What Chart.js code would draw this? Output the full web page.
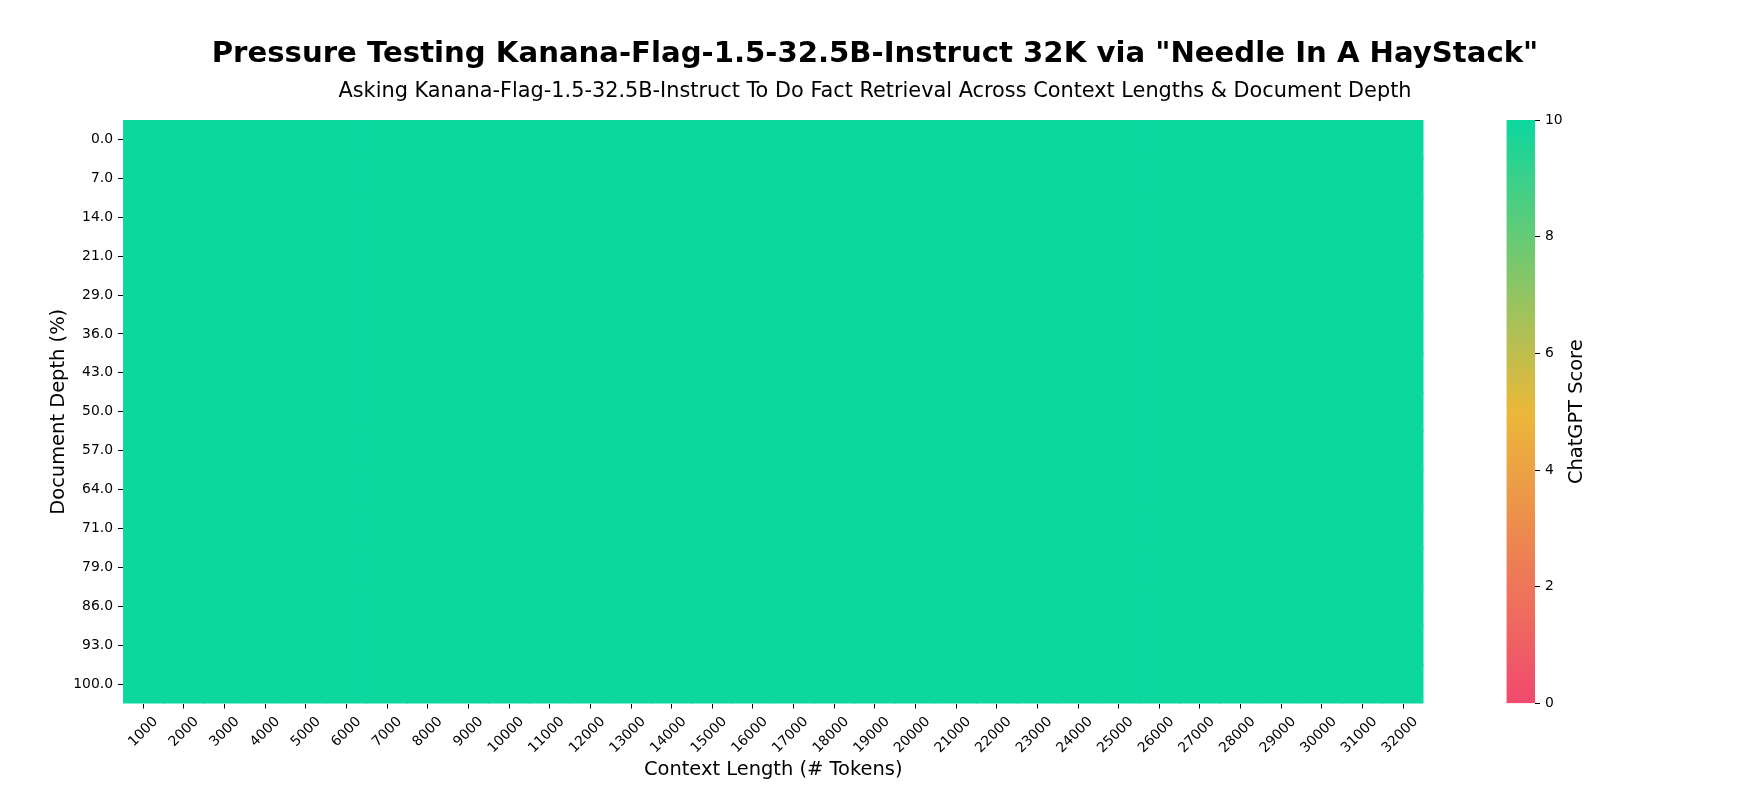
<!DOCTYPE html>
<html>
<head>
<meta charset="utf-8">
<script src="https://cdn.jsdelivr.net/npm/chart.js@4.4.1/dist/chart.umd.min.js"></script>
<style>
  html, body { margin: 0; padding: 0; background: #ffffff; overflow: hidden; }
  #main { position: absolute; left: 0; top: 0; width: 1750px; height: 800px; }
  #cbar { position: absolute; left: 1450px; top: 0; width: 300px; height: 800px; }
</style>
</head>
<body>
<div id="main"><canvas id="heat"></canvas></div>
<div id="cbar"><canvas id="bar"></canvas></div>
<script>
// ---- data ----
const contextLengths = [1000, 2000, 3000, 4000, 5000, 6000, 7000, 8000, 9000, 10000,
  11000, 12000, 13000, 14000, 15000, 16000, 17000, 18000, 19000, 20000,
  21000, 22000, 23000, 24000, 25000, 26000, 27000, 28000, 29000, 30000, 31000, 32000];
const depths = [0, 7, 14, 21, 29, 36, 43, 50, 57, 64, 71, 79, 86, 93, 100];
// scores[row = depth][col = context length]
const scores = [
  [10,10,10,10,10,10,10,10,10,10,10,10,10,10,10,10,10,10,10,10,10,10,10,10,10,10,10,10,10,10,10,10],
  [10,10,10,10,10,10,10,10,10,10,10,10,10,10,10,10,10,10,10,10,10,10,10,10,10,10,10,10,10,10,10,10],
  [10,10,10,10,10,10,10,10,10,10,10,10,10,10,10,10,10,10,10,10,10,10,10,10,10,10,10,10,10,10,10,10],
  [10,10,10,10,10,10,10,10,10,10,10,10,10,10,10,10,10,10,10,10,10,10,10,10,10,10,10,10,10,10,10,10],
  [10,10,10,10,10,10,10,10,10,10,10,10,10,10,10,10,10,10,10,10,10,10,10,10,10,10,10,10,10,10,10,10],
  [10,10,10,10,10,10,10,10,10,10,10,10,10,10,10,10,10,10,10,10,10,10,10,10,10,10,10,10,10,10,10,10],
  [10,10,10,10,10,10,10,10,10,10,10,10,10,10,10,10,10,10,10,10,10,10,10,10,10,10,10,10,10,10,10,10],
  [10,10,10,10,10,10,10,10,10,10,10,10,10,10,10,10,10,10,10,10,10,10,10,10,10,10,10,10,10,10,10,10],
  [10,10,10,10,10,10,10,10,10,10,10,10,10,10,10,10,10,10,10,10,10,10,10,10,10,10,10,10,10,10,10,10],
  [10,10,10,10,10,10,10,10,10,10,10,10,10,10,10,10,10,10,10,10,10,10,10,10,10,10,10,10,10,10,10,10],
  [10,10,10,10,10,10,10,10,10,10,10,10,10,10,10,10,10,10,10,10,10,10,10,10,10,10,10,10,10,10,10,10],
  [10,10,10,10,10,10,10,10,10,10,10,10,10,10,10,10,10,10,10,10,10,10,10,10,10,10,10,10,10,10,10,10],
  [10,10,10,10,10,10,10,10,10,10,10,10,10,10,10,10,10,10,10,10,10,10,10,10,10,10,10,10,10,10,10,10],
  [10,10,10,10,10,10,10,10,10,10,10,10,10,10,10,10,10,10,10,10,10,10,10,10,10,10,10,10,10,10,10,10],
  [10,10,10,10,10,10,10,10,10,10,10,10,10,10,10,10,10,10,10,10,10,10,10,10,10,10,10,10,10,10,10,10]
];
const scoreRange = [0, 10];
const colorbarTicks = [0, 2, 4, 6, 8, 10];
const cmapColors = ['#F0496E', '#EBB839', '#0CD79F'];

const titleText = 'Pressure Testing Kanana-Flag-1.5-32.5B-Instruct 32K via "Needle In A HayStack"';
const subtitleText = 'Asking Kanana-Flag-1.5-32.5B-Instruct To Do Fact Retrieval Across Context Lengths & Document Depth';
const xTitle = 'Context Length (# Tokens)';
const yTitle = 'Document Depth (%)';
const cbTitle = 'ChatGPT Score';

// ---- colormap ----
function hexToRgb(h) {
  return [parseInt(h.slice(1, 3), 16), parseInt(h.slice(3, 5), 16), parseInt(h.slice(5, 7), 16)];
}
function cmap(v) {
  let t = (v - scoreRange[0]) / (scoreRange[1] - scoreRange[0]);
  t = Math.max(0, Math.min(1, t));
  const n = cmapColors.length - 1;
  const seg = Math.min(n - 1, Math.floor(t * n));
  const lt = t * n - seg;
  const a = hexToRgb(cmapColors[seg]), b = hexToRgb(cmapColors[seg + 1]);
  const c = a.map((x, i) => Math.round(x + (b[i] - x) * lt));
  return 'rgb(' + c.join(',') + ')';
}

const FONT = '"DejaVu Sans", "Liberation Sans", sans-serif';
const TICK_SIZE = 13.9;
const LABEL_SIZE = 19.44;
const TITLE_SIZE = 29.17;
const SUBTITLE_SIZE = 20.83;

// ---- heatmap ----
new Chart(document.getElementById('heat'), {
  type: 'bar',
  data: {
    labels: contextLengths.map(String),
    datasets: depths.map((d, r) => ({
      label: d.toFixed(1),
      data: contextLengths.map(() => [r, r + 1]),
      backgroundColor: scores[r].map(v => cmap(v)),
      borderWidth: 0,
      barPercentage: 1,
      categoryPercentage: 1,
      grouped: false,
      inflateAmount: 0.6
    }))
  },
  options: {
    responsive: true,
    maintainAspectRatio: false,
    animation: false,
    events: [],
    layout: { padding: { left: 0, right: 0, top: 0, bottom: 0 } },
    plugins: {
      legend: { display: false },
      tooltip: { enabled: false },
      title: {
        display: true,
        text: titleText,
        color: '#000',
        font: { family: FONT, size: TITLE_SIZE, weight: 'bold', lineHeight: 1.2 },
        padding: { top: 37.2, bottom: 0 }
      },
      subtitle: {
        display: true,
        text: subtitleText,
        color: '#000',
        font: { family: FONT, size: SUBTITLE_SIZE, weight: 'normal', lineHeight: 1.2 },
        padding: { top: 6.4, bottom: 16.4 }
      }
    },
    scales: {
      x: {
        type: 'category',
        offset: true,
        grid: { display: true, drawOnChartArea: false, drawTicks: true, tickLength: 5, tickColor: '#000', tickWidth: 1, offset: false },
        border: { display: false },
        ticks: {
          autoSkip: false, minRotation: 45, maxRotation: 45,
          color: '#000', font: { family: FONT, size: TICK_SIZE },
          padding: 5, labelOffset: 12.5
        },
        title: {
          display: true, text: xTitle, color: '#000',
          font: { family: FONT, size: LABEL_SIZE }, padding: { top: 0, bottom: 18.4 }
        },
        afterFit: (s) => { s.height = 96.5; }
      },
      y: {
        type: 'linear',
        position: 'left',
        min: 0, max: depths.length,
        reverse: true,
        grid: { display: true, drawOnChartArea: false, drawTicks: true, tickLength: 5, tickColor: '#000', tickWidth: 1 },
        border: { display: false },
        afterBuildTicks: (s) => { s.ticks = depths.map((d, i) => ({ value: i + 0.5 })); },
        ticks: {
          autoSkip: false,
          color: '#000', font: { family: FONT, size: TICK_SIZE }, padding: 5,
          callback: (v, i) => depths[i].toFixed(1)
        },
        title: {
          display: true, text: yTitle, color: '#000',
          font: { family: FONT, size: LABEL_SIZE }, padding: { top: 47.3, bottom: 0 }
        },
        afterFit: (s) => { s.width = 123; }
      },
      spacer: {
        type: 'linear',
        position: 'right',
        display: true,
        grid: { display: false },
        border: { display: false },
        ticks: { display: false },
        afterFit: (s) => { s.width = 326.5; }
      }
    }
  }
});

// ---- colorbar ----
const cbTitlePlugin = {
  id: 'cbTitle',
  afterDraw(chart) {
    const a = chart.chartArea;
    const ctx = chart.ctx;
    ctx.save();
    ctx.translate(127.4, (a.top + a.bottom) / 2);
    ctx.rotate(-Math.PI / 2);
    ctx.fillStyle = '#000';
    ctx.font = LABEL_SIZE + 'px ' + FONT;
    ctx.textAlign = 'center';
    ctx.textBaseline = 'middle';
    ctx.fillText(cbTitle, 0, 0);
    ctx.restore();
  }
};

new Chart(document.getElementById('bar'), {
  type: 'bar',
  data: {
    labels: [cbTitle],
    datasets: [{
      data: [scoreRange],
      borderWidth: 0,
      barPercentage: 1,
      categoryPercentage: 1,
      backgroundColor: (c) => {
        const area = c.chart.chartArea;
        if (!area) return cmapColors[2];
        const g = c.chart.ctx.createLinearGradient(0, area.bottom, 0, area.top);
        cmapColors.forEach((col, i) => g.addColorStop(i / (cmapColors.length - 1), col));
        return g;
      }
    }]
  },
  options: {
    responsive: true,
    maintainAspectRatio: false,
    animation: false,
    events: [],
    layout: { padding: { left: 56.5, right: 0, top: 120, bottom: 96.5 } },
    plugins: { legend: { display: false }, tooltip: { enabled: false }, title: { display: false } },
    scales: {
      x: { display: false, offset: true },
      y: {
        type: 'linear',
        position: 'right',
        min: scoreRange[0], max: scoreRange[1],
        grid: { display: true, drawOnChartArea: false, drawTicks: true, tickLength: 5, tickColor: '#000', tickWidth: 1 },
        border: { display: false },
        afterBuildTicks: (s) => { s.ticks = colorbarTicks.map(v => ({ value: v })); },
        ticks: { color: '#000', font: { family: FONT, size: TICK_SIZE }, padding: 5 },
        afterFit: (s) => { s.width = 215; }
      }
    }
  },
  plugins: [cbTitlePlugin]
});
</script>
</body>
</html>
